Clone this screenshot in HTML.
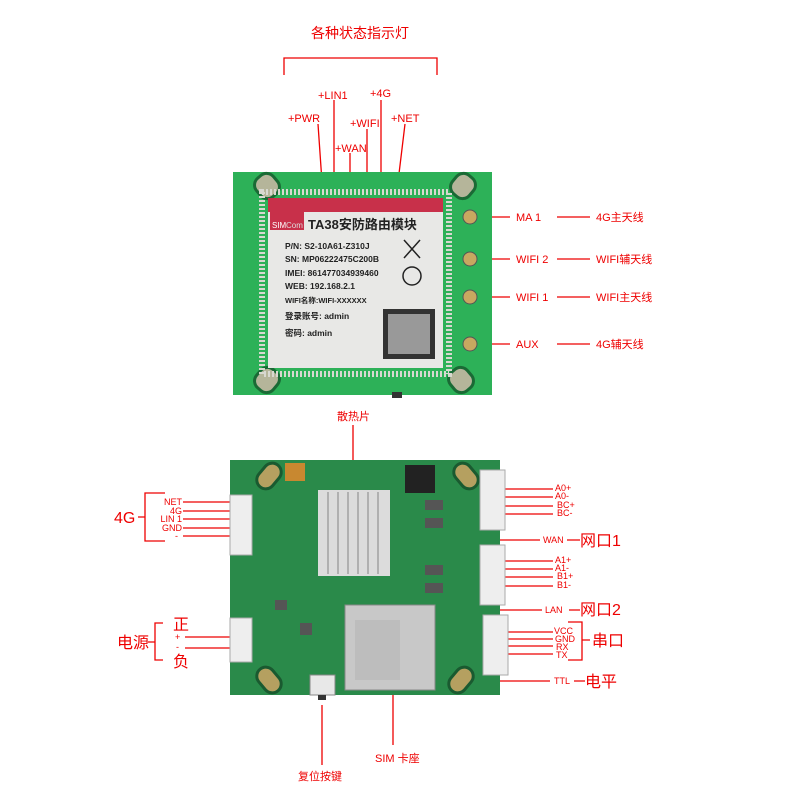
<!DOCTYPE html>
<html><head><meta charset="utf-8"><style>
body{margin:0;width:800px;height:800px;background:#fff;overflow:hidden}
svg{display:block}
text{font-family:"Liberation Sans","Noto Sans CJK SC",sans-serif}
.r{fill:#e00}
</style></head><body>
<svg width="800" height="800" viewBox="0 0 800 800">
<text x="360" y="38" font-size="14" text-anchor="middle" fill="#e00">各种状态指示灯</text>
<g stroke="#e00" stroke-width="1.3" fill="none">
<path d="M284 75V58H437V75"/>
<path d="M334 100V182M381 100V182M318 124L322 182M367 129V182M405 124L398 182M350 153V182"/>
<path d="M480 217H510M557 217H590M480 259H510M557 259H590M480 297H510M557 297H590M480 344H510M557 344H590"/>
<path d="M353 425V510"/>
<path d="M165 493H145V541H165M138 517H145"/>
<path d="M183 502H238M183 511H238M183 519H238M183 528H238M183 536H238"/>
<path d="M493 489H553M493 497H553M493 506H553M493 514H553"/>
<path d="M492 540H540M567 540H580"/>
<path d="M493 561H553M493 569H553M493 577H553M493 586H553"/>
<path d="M483 610H542M569 610H580"/>
<path d="M493 632H553M493 639H553M493 646H553M493 654H553M568 622H582V660H568M582 640H590"/>
<path d="M495 681H550M574 681H585"/>
<path d="M163 623H155V660H163M148 642H155M185 637H237M185 648H237"/>
<path d="M393 680V745M322 705V765"/>
</g>
<g class="r" font-size="11">
<text x="318" y="99">+LIN1</text><text x="370" y="97">+4G</text>
<text x="288" y="122">+PWR</text><text x="350" y="127">+WIFI</text><text x="391" y="122">+NET</text>
<text x="335" y="152">+WAN</text>
<text x="516" y="221">MA 1</text><text x="596" y="221">4G主天线</text>
<text x="516" y="263">WIFI 2</text><text x="596" y="263">WIFI辅天线</text>
<text x="516" y="301">WIFI 1</text><text x="596" y="301">WIFI主天线</text>
<text x="516" y="348">AUX</text><text x="596" y="348">4G辅天线</text>
<text x="337" y="420">散热片</text>
<text x="375" y="762">SIM 卡座</text>
<text x="298" y="780">复位按键</text>
</g>
<g class="r" font-size="9">
<text x="182" y="505" text-anchor="end">NET</text><text x="182" y="514" text-anchor="end">4G</text>
<text x="182" y="522" text-anchor="end">LIN 1</text><text x="182" y="531" text-anchor="end">GND</text>
<text x="178" y="539" text-anchor="end">-</text>
<text x="555" y="491">A0+</text><text x="555" y="499">A0-</text><text x="557" y="508">BC+</text><text x="557" y="516">BC-</text>
<text x="543" y="543">WAN</text>
<text x="555" y="563">A1+</text><text x="555" y="571">A1-</text><text x="557" y="579">B1+</text><text x="557" y="588">B1-</text>
<text x="545" y="613">LAN</text>
<text x="554" y="634">VCC</text><text x="555" y="642">GND</text><text x="556" y="650">RX</text><text x="556" y="658">TX</text>
<text x="554" y="684">TTL</text>
<text x="175" y="640">+</text><text x="176" y="650">-</text>
</g>
<g class="r" font-size="16">
<text x="114" y="523">4G</text>
<text x="580" y="546">网口1</text><text x="580" y="615">网口2</text>
<text x="592" y="646">串口</text><text x="585" y="687">电平</text>
<text x="117" y="648">电源</text><text x="173" y="630">正</text><text x="173" y="667">负</text>
</g>
<rect x="233" y="172" width="259" height="223" fill="#2db158"/>
<g fill="#b5b59a" stroke="#1a6a35" stroke-width="3">
<rect x="256" y="174" width="22" height="24" rx="9" transform="rotate(-40 267 186)"/>
<rect x="452" y="174" width="22" height="24" rx="9" transform="rotate(40 463 186)"/>
<rect x="256" y="368" width="22" height="24" rx="9" transform="rotate(40 267 380)"/>
<rect x="450" y="368" width="22" height="24" rx="9" transform="rotate(-40 461 380)"/>
</g>
<rect x="262" y="192" width="187" height="182" fill="none" stroke="#d8d8d0" stroke-width="6" stroke-dasharray="2 2"/>
<rect x="268" y="198" width="175" height="170" fill="#e8e8e6"/>
<rect x="268" y="198" width="175" height="14" fill="#c8304a"/>
<rect x="270" y="205" width="34" height="25" fill="#c8304a"/>
<text x="272" y="228" font-size="8" fill="#fff">SIM</text><text x="286" y="228" font-size="8" fill="#ddd">Com</text>
<text x="308" y="229" font-size="13" font-weight="bold" fill="#222">TA38安防路由模块</text>
<g font-size="8.5" fill="#222" font-weight="bold">
<text x="285" y="249">P/N: S2-10A61-Z310J</text>
<text x="285" y="262">SN: MP06222475C200B</text>
<text x="285" y="276">IMEI: 861477034939460</text>
<text x="285" y="289">WEB: 192.168.2.1</text>
<text x="285" y="303" font-size="7.5">WIFI名称:WIFI-XXXXXX</text>
<text x="285" y="319">登录账号: admin</text>
<text x="285" y="336">密码: admin</text>
</g>
<circle cx="412" cy="276" r="9" fill="none" stroke="#222" stroke-width="1.5"/>
<path d="M404 240L420 258M420 240L404 258" stroke="#222" stroke-width="1.5"/>
<rect x="383" y="309" width="52" height="50" fill="#333"/>
<rect x="388" y="314" width="42" height="40" fill="#999"/>
<g fill="#c8a860" stroke="#555"><circle cx="470" cy="217" r="7"/><circle cx="470" cy="259" r="7"/><circle cx="470" cy="297" r="7"/><circle cx="470" cy="344" r="7"/></g>
<rect x="392" y="392" width="10" height="6" fill="#333"/>
<rect x="230" y="460" width="270" height="235" fill="#2a8a4a"/>
<g fill="#b5a060" stroke="#1a5a30" stroke-width="3">
<rect x="260" y="462" width="18" height="28" rx="9" transform="rotate(40 269 476)"/>
<rect x="457" y="462" width="18" height="28" rx="9" transform="rotate(-40 466 476)"/>
<rect x="260" y="666" width="18" height="28" rx="9" transform="rotate(-40 269 680)"/>
<rect x="452" y="666" width="18" height="28" rx="9" transform="rotate(40 461 680)"/>
</g>
<rect x="318" y="490" width="72" height="86" fill="#dcdcdc"/>
<g stroke="#b0b0b0" stroke-width="2"><path d="M328 492V574M338 492V574M348 492V574M358 492V574M368 492V574M378 492V574"/></g>
<rect x="285" y="463" width="20" height="18" fill="#c88830"/>
<rect x="405" y="465" width="30" height="28" fill="#222"/>
<rect x="345" y="605" width="90" height="85" fill="#c8c8c8" stroke="#888"/>
<rect x="355" y="620" width="45" height="60" fill="#bdbdbd"/>
<rect x="230" y="495" width="22" height="60" fill="#eee" stroke="#aaa"/>
<rect x="230" y="618" width="22" height="44" fill="#eee" stroke="#aaa"/>
<rect x="480" y="470" width="25" height="60" fill="#eee" stroke="#aaa"/>
<rect x="480" y="545" width="25" height="60" fill="#eee" stroke="#aaa"/>
<rect x="483" y="615" width="25" height="60" fill="#eee" stroke="#aaa"/>
<rect x="310" y="675" width="25" height="20" fill="#e8e8e8" stroke="#888"/>
<rect x="318" y="695" width="8" height="5" fill="#333"/>
<g fill="#555"><rect x="425" y="500" width="18" height="10"/><rect x="425" y="518" width="18" height="10"/><rect x="425" y="565" width="18" height="10"/><rect x="425" y="583" width="18" height="10"/><rect x="300" y="623" width="12" height="12"/><rect x="275" y="600" width="12" height="10"/></g>
</svg>
</body></html>
